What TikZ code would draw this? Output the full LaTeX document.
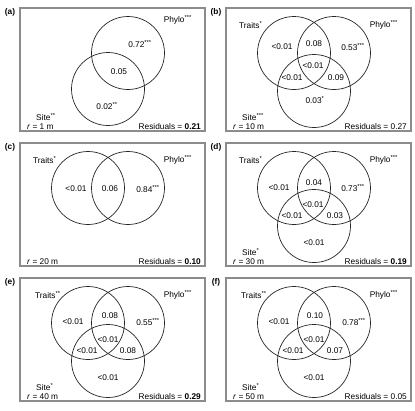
\documentclass[tikz,border=0pt]{standalone}
\usepackage{fontspec}
\setmainfont{Liberation Sans}
\begin{document}
\begin{tikzpicture}[x=1pt,y=-1pt,
  every node/.style={font=\fontsize{8.3}{10}\selectfont, inner sep=0pt},
  panelbox/.style={draw=black!45, line width=1.3pt},
  vcirc/.style={circle, draw=black!85, line width=0.7pt, minimum size=73pt, inner sep=0pt},
  plabel/.style={font=\fontsize{8.3}{10}\selectfont\bfseries}]
\useasboundingbox (0,0) rectangle (415,410);
% (a)
\begin{scope}[shift={(20,8)}]
  \draw[panelbox] (0,0) rectangle (185,123);
  \node[plabel] (alab) at (-10,4) {(a)};
  \node[vcirc] (aP) at (108,45) {};
  \node[vcirc] (aS) at (88,81) {};
  \node[anchor=east] (aPl) at (172,12) {Phylo\textsuperscript{***}};
  \node[anchor=west] (aSl) at (16,109) {Site\textsuperscript{**}};
  \node[anchor=west] (ar) at (7,118.5) {\textit{r} = 1 m};
  \node[anchor=east] (ares) at (181,118.5) {Residuals = \textbf{0.21}};
  \node (av1) at (120,36) {0.72\textsuperscript{***}};
  \node (av2) at (99,64) {0.05};
  \node (av3) at (87,98) {0.02\textsuperscript{**}};
\end{scope}
% (b)
\begin{scope}[shift={(226,8)}]
  \draw[panelbox] (0,0) rectangle (185,123);
  \node[plabel] (blab) at (-10,4) {(b)};
  \node[vcirc] (bT) at (68,45) {};
  \node[vcirc] (bP) at (108,45) {};
  \node[vcirc] (bS) at (88,83) {};
  \node[anchor=west] (bTl) at (13,17) {Traits\textsuperscript{*}};
  \node[anchor=east] (bPl) at (172,17) {Phylo\textsuperscript{***}};
  \node[anchor=west] (bSl) at (16,109) {Site\textsuperscript{***}};
  \node[anchor=west] (br) at (7,118.5) {\textit{r} = 10 m};
  \node[anchor=east] (bres) at (181,118.5) {Residuals = 0.27};
  \node (bv1) at (56,39) {<0.01};
  \node (bv2) at (88,36) {0.08};
  \node (bv3) at (127,39) {0.53\textsuperscript{***}};
  \node (bv4) at (87,58) {<0.01};
  \node (bv5) at (66,70) {<0.01};
  \node (bv6) at (110,70) {0.09};
  \node (bv7) at (89,92) {0.03\textsuperscript{*}};
\end{scope}
% (c)
\begin{scope}[shift={(20,143)}]
  \draw[panelbox] (0,0) rectangle (185,123);
  \node[plabel] (clab) at (-10,4) {(c)};
  \node[vcirc] (cT) at (68,45) {};
  \node[vcirc] (cP) at (108,45) {};
  \node[anchor=west] (cTl) at (13,17) {Traits\textsuperscript{*}};
  \node[anchor=east] (cPl) at (172,17) {Phylo\textsuperscript{***}};
  \node[anchor=west] (cr) at (7,118.5) {\textit{r} = 20 m};
  \node[anchor=east] (cres) at (181,118.5) {Residuals = \textbf{0.10}};
  \node (cv1) at (56,46) {<0.01};
  \node (cv2) at (90,46) {0.06};
  \node (cv3) at (128,46) {0.84\textsuperscript{***}};
\end{scope}
% (d)
\begin{scope}[shift={(226,143)}]
  \draw[panelbox] (0,0) rectangle (185,123);
  \node[plabel] (dlab) at (-10,4) {(d)};
  \node[vcirc] (dT) at (68,45) {};
  \node[vcirc] (dP) at (108,45) {};
  \node[vcirc] (dS) at (88,83) {};
  \node[anchor=west] (dTl) at (13,17) {Traits\textsuperscript{*}};
  \node[anchor=east] (dPl) at (172,17) {Phylo\textsuperscript{***}};
  \node[anchor=west] (dSl) at (16,109) {Site\textsuperscript{*}};
  \node[anchor=west] (dr) at (7,118.5) {\textit{r} = 30 m};
  \node[anchor=east] (dres) at (181,118.5) {Residuals = \textbf{0.19}};
  \node (dv1) at (53,45) {<0.01};
  \node (dv2) at (88,40) {0.04};
  \node (dv3) at (127,45) {0.73\textsuperscript{***}};
  \node (dv4) at (87,62) {<0.01};
  \node (dv5) at (66,73) {<0.01};
  \node (dv6) at (109,73) {0.03};
  \node (dv7) at (88,100) {<0.01};
\end{scope}
% (e)
\begin{scope}[shift={(20,278)}]
  \draw[panelbox] (0,0) rectangle (185,123);
  \node[plabel] (elab) at (-10,4) {(e)};
  \node[vcirc] (eT) at (68,45) {};
  \node[vcirc] (eP) at (108,45) {};
  \node[vcirc] (eS) at (88,83) {};
  \node[anchor=west] (eTl) at (15,17) {Traits\textsuperscript{**}};
  \node[anchor=east] (ePl) at (172,17) {Phylo\textsuperscript{***}};
  \node[anchor=west] (eSl) at (16,109) {Site\textsuperscript{*}};
  \node[anchor=west] (er) at (7,118.5) {\textit{r} = 40 m};
  \node[anchor=east] (eres) at (181,118.5) {Residuals = \textbf{0.29}};
  \node (ev1) at (53,44) {<0.01};
  \node (ev2) at (90,38) {0.08};
  \node (ev3) at (128,44) {0.55\textsuperscript{***}};
  \node (ev4) at (88,62) {<0.01};
  \node (ev5) at (67,73) {<0.01};
  \node (ev6) at (108,73) {0.08};
  \node (ev7) at (88,100) {<0.01};
\end{scope}
% (f)
\begin{scope}[shift={(226,278)}]
  \draw[panelbox] (0,0) rectangle (185,123);
  \node[plabel] (flab) at (-10,4) {(f)};
  \node[vcirc] (fT) at (68,45) {};
  \node[vcirc] (fP) at (108,45) {};
  \node[vcirc] (fS) at (88,83) {};
  \node[anchor=west] (fTl) at (15,17) {Traits\textsuperscript{**}};
  \node[anchor=east] (fPl) at (172,17) {Phylo\textsuperscript{***}};
  \node[anchor=west] (fSl) at (16,109) {Site\textsuperscript{*}};
  \node[anchor=west] (fr) at (7,118.5) {\textit{r} = 50 m};
  \node[anchor=east] (fres) at (181,118.5) {Residuals = 0.05};
  \node (fv1) at (53,44) {<0.01};
  \node (fv2) at (89,38) {0.10};
  \node (fv3) at (128,44) {0.78\textsuperscript{***}};
  \node (fv4) at (88,62) {<0.01};
  \node (fv5) at (67,73) {<0.01};
  \node (fv6) at (109,73) {0.07};
  \node (fv7) at (88,100) {<0.01};
\end{scope}
\end{tikzpicture}
\end{document}
